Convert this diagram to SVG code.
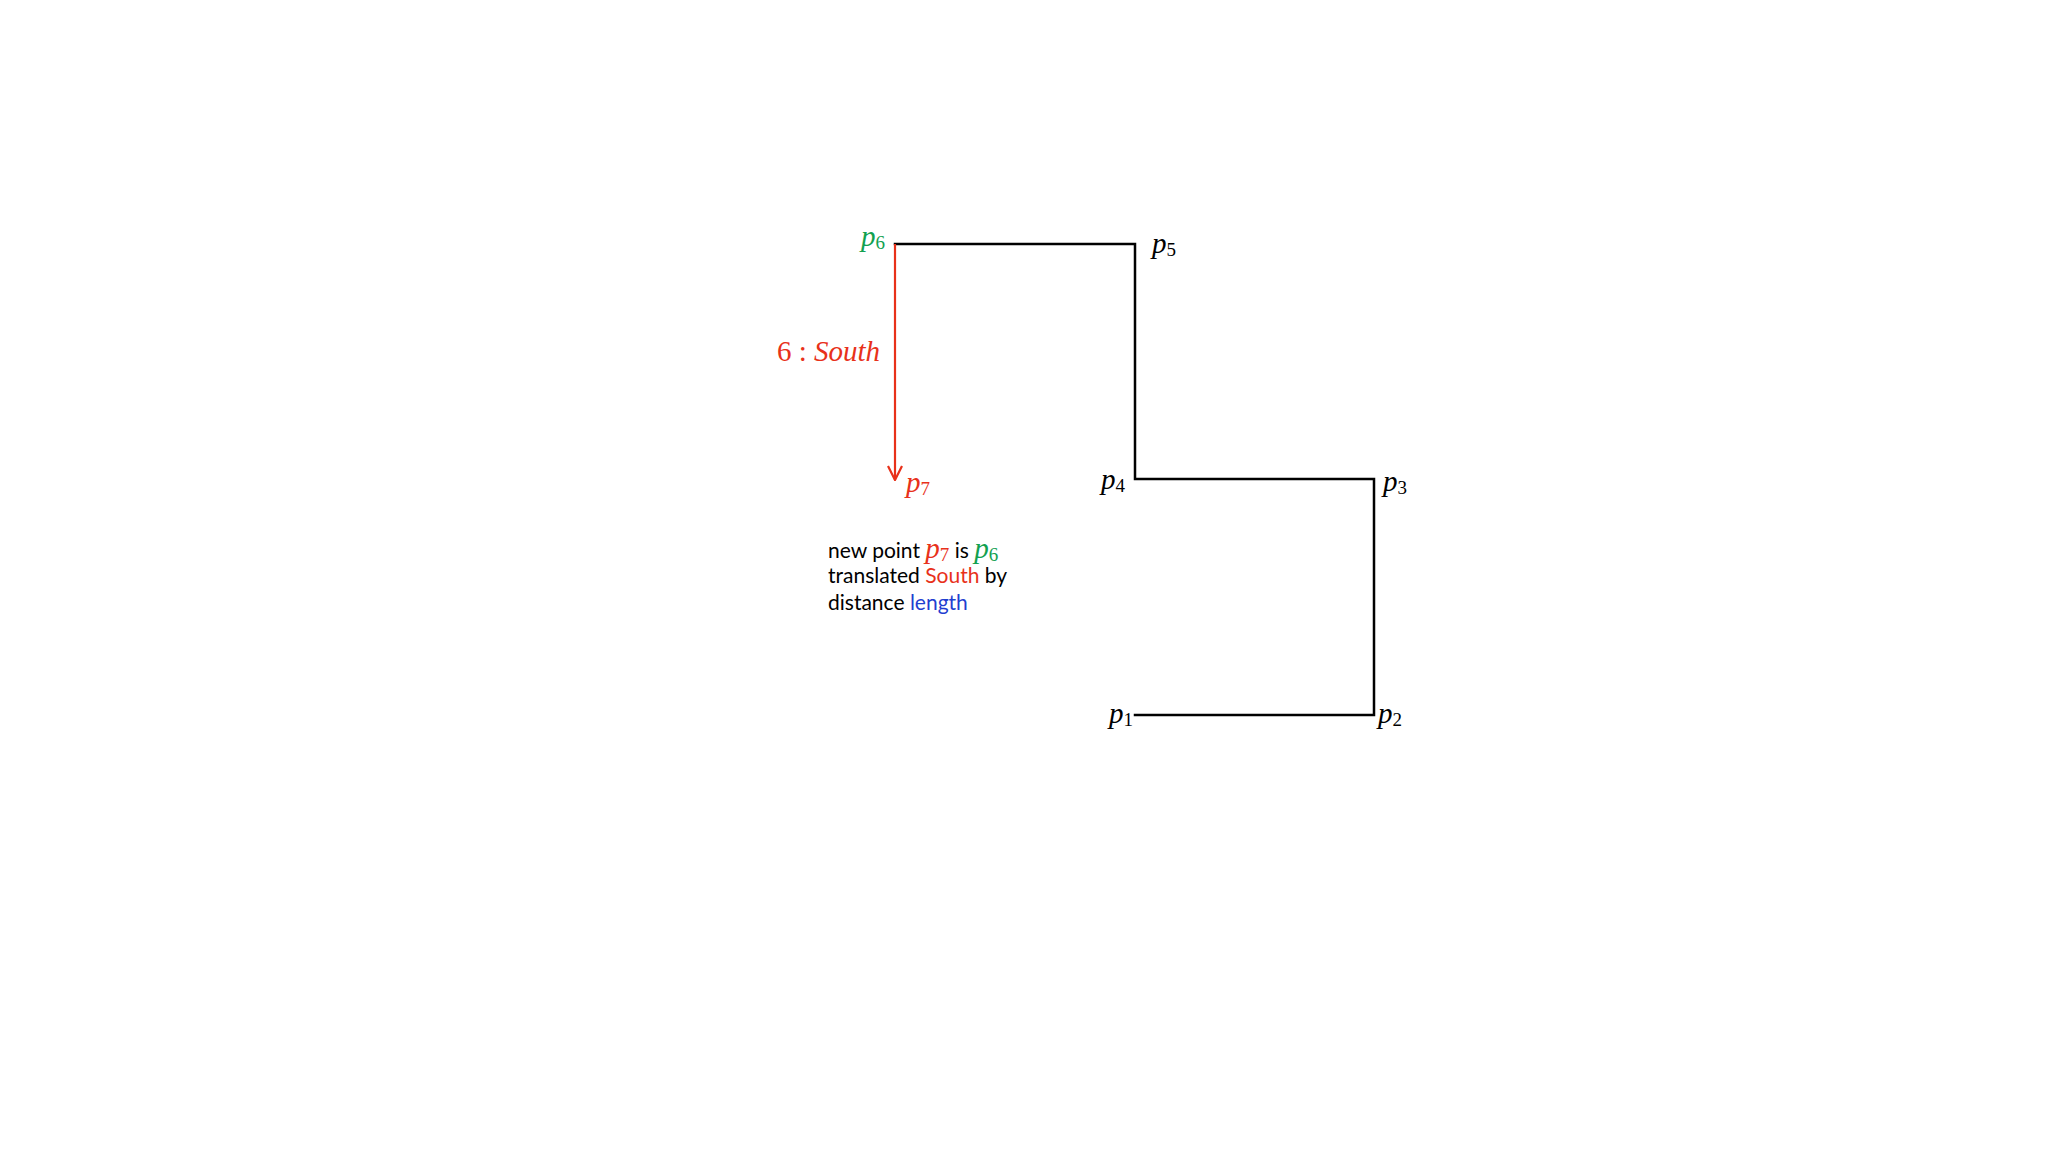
<svg xmlns="http://www.w3.org/2000/svg" width="2048" height="1152" viewBox="0 0 2048 1152">
<style>
.bg{fill:#ffffff}
.edge{fill:none;stroke:#000000;stroke-width:2.5;stroke-linecap:square}
.move{fill:none;stroke:#E8311A;stroke-width:2.2}
.math{font-family:"Liberation Serif","DejaVu Serif",serif;font-style:italic;font-size:29px}
.sub{font-style:normal;font-size:19px}
.body{font-family:Lato,"Liberation Sans",sans-serif;font-size:21px;fill:#000000}
.red{fill:#E8311A}
.green{fill:#12A150}
.blue{fill:#1F3FD0}
.black{fill:#000000}
</style>
<defs>
<marker id="vee" viewBox="0 0 16 16" refX="15" refY="8" markerWidth="16" markerHeight="16" markerUnits="userSpaceOnUse" orient="auto">
<path d="M1,1 L15,8 L1,15" fill="none" stroke="#E8311A" stroke-width="2.2"/>
</marker>
</defs>
<rect class="bg" x="0" y="0" width="2048" height="1152"/>
<g id="connectors">
<polyline class="edge" points="1135,715 1374,715 1374,479 1135,479 1135,244 895,244"/>
<line class="move" x1="895" y1="244" x2="895" y2="480" marker-end="url(#vee)"/>
</g>
<g id="p1"><text class="math black" x="1109" y="723">p<tspan class="sub" dy="3">1</tspan></text></g>
<g id="p2"><text class="math black" x="1378" y="723">p<tspan class="sub" dy="3">2</tspan></text></g>
<g id="p3"><text class="math black" x="1383" y="491">p<tspan class="sub" dy="3">3</tspan></text></g>
<g id="p4"><text class="math black" x="1101" y="489">p<tspan class="sub" dy="3">4</tspan></text></g>
<g id="p5"><text class="math black" x="1152" y="253">p<tspan class="sub" dy="3">5</tspan></text></g>
<g id="p6"><text class="math green" x="861" y="246">p<tspan class="sub" dy="3">6</tspan></text></g>
<g id="p7"><text class="math red" x="906" y="492">p<tspan class="sub" dy="3">7</tspan></text></g>
<g id="move-label"><text class="math red" x="880" y="361" text-anchor="end" font-size="28"><tspan font-style="normal">6 : </tspan>South</text></g>
<g id="note">
<text class="body" x="828" y="558">new point <tspan class="math red" font-size="22">p<tspan class="sub" font-size="14" dy="3">7</tspan></tspan><tspan dy="-3"> is </tspan><tspan class="math green" font-size="22">p<tspan class="sub" font-size="14" dy="3">6</tspan></tspan></text>
<text class="body" x="828" y="583">translated <tspan class="red">South</tspan> by</text>
<text class="body" x="828" y="610">distance <tspan class="blue">length</tspan></text>
</g>
</svg>
